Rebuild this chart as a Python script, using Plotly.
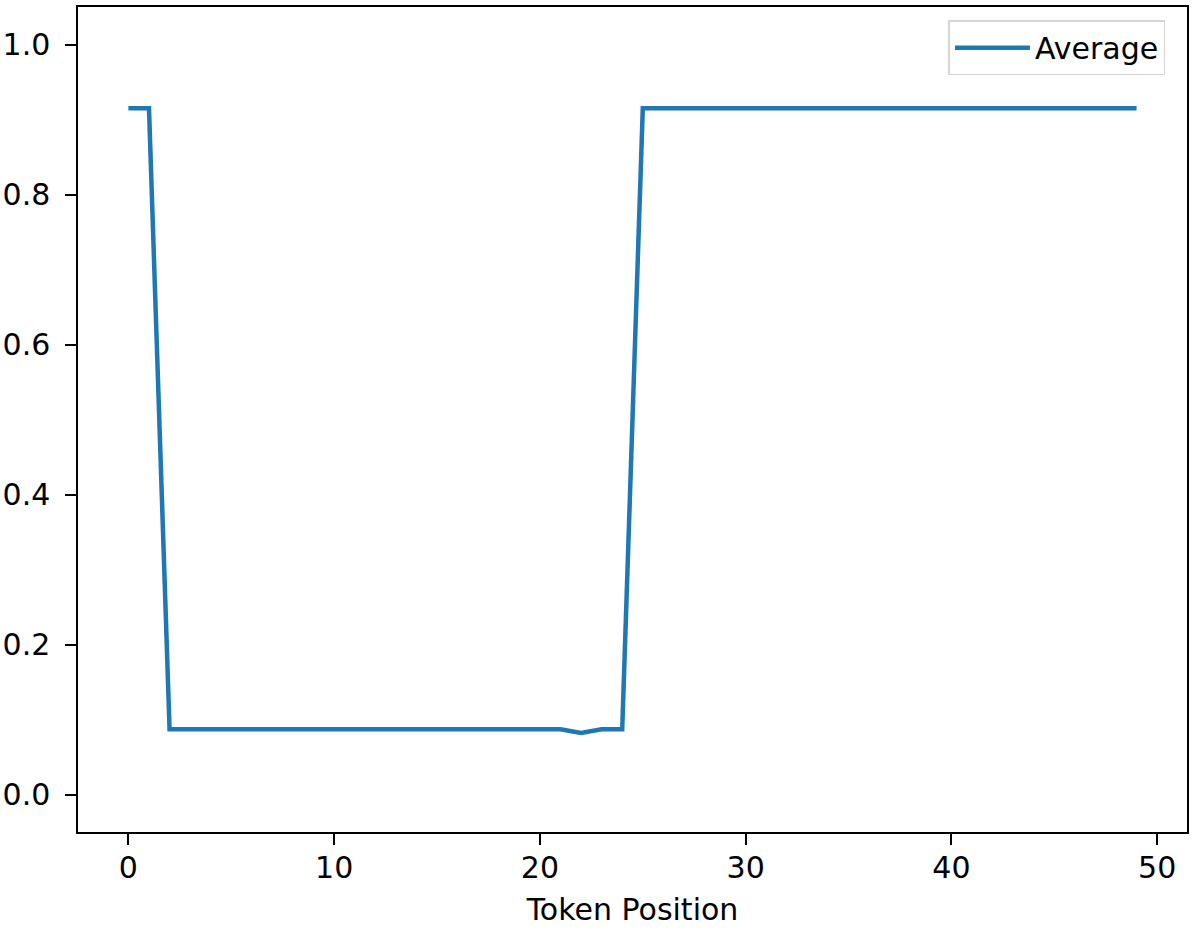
import plotly.graph_objects as go

token_position = list(range(50))
average = ([0.915, 0.915]
           + [0.087] * 20
           + [0.082, 0.087, 0.087]
           + [0.915] * 25)

FONT = "DejaVu Sans"
FS = 30
fig = go.Figure()
fig.add_trace(go.Scatter(
    x=token_position, y=average, mode="lines", name="Average",
    line=dict(color="#1f77b4", width=4.5),
))
fig.update_layout(
    width=1192, height=935,
    margin=dict(l=78, r=5, t=7, b=103, autoexpand=False),
    paper_bgcolor="white", plot_bgcolor="white",
    font=dict(family=FONT, size=FS, color="black"),
    showlegend=True,
    legend=dict(x=0.9806, y=0.984, xanchor="right", yanchor="top",
                bordercolor="#d5d5d5", borderwidth=1.5, bgcolor="white",
                itemwidth=75, font=dict(size=FS)),
)
fig.update_xaxes(
    range=[-2.45, 51.45], tickvals=[0, 10, 20, 30, 40, 50],
    showgrid=False, zeroline=False, showline=True, mirror=True, automargin=False,
    linecolor="black", linewidth=2.4, ticks="outside", ticklen=10.5, tickwidth=2.4,
    tickcolor="black", ticklabelstandoff=-3,
    title=dict(text="Token Position", standoff=15, font=dict(size=FS)),
)
fig.update_yaxes(
    range=[-0.05, 1.05], tickvals=[0, 0.2, 0.4, 0.6, 0.8, 1.0], tickformat=".1f",
    showgrid=False, zeroline=False, showline=True, mirror=True, automargin=False,
    linecolor="black", linewidth=2.4, ticks="outside", ticklen=10.5, tickwidth=2.4,
    tickcolor="black", ticklabelstandoff=9,
)
fig.write_html("out.html",
               config={"displayModeBar": False},
               post_script="document.body.style.margin='0';document.body.style.overflow='hidden';")
